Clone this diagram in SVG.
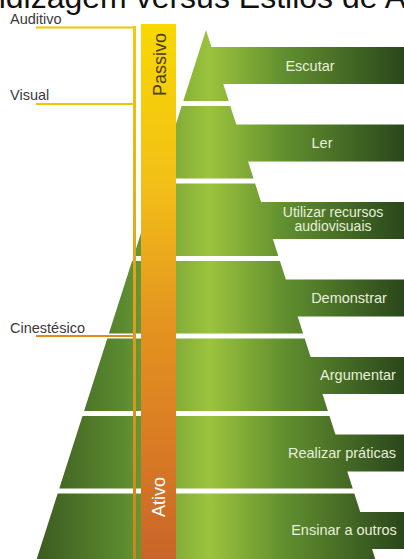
<svg xmlns="http://www.w3.org/2000/svg" width="404" height="559" viewBox="0 0 404 559">
<defs>
<linearGradient id="g" gradientUnits="userSpaceOnUse" x1="30" y1="0" x2="404" y2="0">
<stop offset="0" stop-color="#39581f"/>
<stop offset="0.25" stop-color="#5c8a30"/>
<stop offset="0.48" stop-color="#9cc33d"/>
<stop offset="0.68" stop-color="#618f2f"/>
<stop offset="1" stop-color="#2a471b"/>
</linearGradient>
<linearGradient id="bar" gradientUnits="userSpaceOnUse" x1="0" y1="24" x2="0" y2="559">
<stop offset="0" stop-color="#f8d800"/>
<stop offset="0.3" stop-color="#f2bf18"/>
<stop offset="0.55" stop-color="#e4951f"/>
<stop offset="0.8" stop-color="#d87a24"/>
<stop offset="1" stop-color="#c9652a"/>
</linearGradient>
<linearGradient id="vl" gradientUnits="userSpaceOnUse" x1="0" y1="25" x2="0" y2="559">
<stop offset="0" stop-color="#f4ca0a"/>
<stop offset="0.5" stop-color="#dca022"/>
<stop offset="1" stop-color="#c8861e"/>
</linearGradient>
</defs>
<style>
.band{fill:url(#g)}
.lbl{font-family:"Liberation Sans",Arial,sans-serif;font-size:14.5px;fill:#e8efdc;text-anchor:middle}
.lbl2{font-size:14px}
.side{font-family:"Liberation Sans",Arial,sans-serif;font-size:14.5px;fill:#3a3a3a}
.bartxt{font-family:"Liberation Sans",Arial,sans-serif;font-size:18px;text-anchor:middle}
.title{font-family:"Liberation Sans",Arial,sans-serif;font-size:32px;fill:#111}
.yl{stroke:#f2c400;stroke-width:2;fill:none}
.ol{stroke:#e08a1c;stroke-width:2;fill:none}
</style>
<rect width="404" height="559" fill="#ffffff"/>
<text class="title" x="-12" y="8">ndizagem versus Estilos de A</text>

<g id="band-escutar">
<path class="band" d="M206,30 L211.44,47 L404,47 L404,84 L223.28,84 L228.72,101 L183.28,101 Z"/>
<text class="lbl" x="310" y="70.5">Escutar</text>
</g>
<g id="band-ler">
<path class="band" d="M181.68,106 L230.32,106 L236.24,124.5 L404,124.5 L404,161.5 L248.08,161.5 L253.52,178.5 L158.48,178.5 Z"/>
<text class="lbl" x="322" y="148">Ler</text>
</g>
<g id="band-utilizar">
<path class="band" d="M156.88,183.5 L255.12,183.5 L261.04,202 L404,202 L404,239 L272.88,239 L278.32,256 L133.68,256 Z"/>
<text class="lbl lbl2" x="333" y="216.5"><tspan x="333" y="216.5">Utilizar recursos</tspan><tspan x="333" y="231">audiovisuais</tspan></text>
</g>
<g id="band-demonstrar">
<path class="band" d="M132.08,261 L279.92,261 L285.84,279.5 L404,279.5 L404,316.5 L297.68,316.5 L303.12,333.5 L108.88,333.5 Z"/>
<text class="lbl" x="349" y="303">Demonstrar</text>
</g>
<g id="band-argumentar">
<path class="band" d="M107.28,338.5 L304.72,338.5 L310.64,357 L404,357 L404,394 L322.48,394 L327.92,411 L84.08,411 Z"/>
<text class="lbl" x="358" y="380">Argumentar</text>
</g>
<g id="band-realizar">
<path class="band" d="M82.48,416 L329.52,416 L335.44,434.5 L404,434.5 L404,471.5 L347.28,471.5 L352.72,488.5 L59.28,488.5 Z"/>
<text class="lbl" x="342" y="457.5">Realizar práticas</text>
</g>
<g id="band-ensinar">
<path class="band" d="M57.68,493.5 L354.32,493.5 L360.24,512 L404,512 L404,549 L372.08,549 L377.2,565 L34.8,565 Z"/>
<text class="lbl" x="344" y="535">Ensinar a outros</text>
</g>

<g id="connectors">
<path class="yl" d="M36,27.5 H135.5"/>
<path class="yl" d="M36,104 H134"/>
<path class="ol" d="M36,336 H134"/>
<rect x="133" y="26" width="3" height="533" fill="url(#vl)"/>
</g>

<g id="axis-bar">
<rect x="141" y="24" width="35" height="535" fill="url(#bar)"/>
<text class="bartxt" fill="#4a3d0f" transform="translate(166,64.5) rotate(-90)">Passivo</text>
<text class="bartxt" fill="#ffffff" transform="translate(165,497) rotate(-90)">Ativo</text>
</g>

<g id="label-auditivo"><text class="side" x="10" y="23.5">Auditivo</text></g>
<g id="label-visual"><text class="side" x="10" y="100">Visual</text></g>
<g id="label-cinestesico"><text class="side" x="10" y="333">Cinestésico</text></g>
</svg>
